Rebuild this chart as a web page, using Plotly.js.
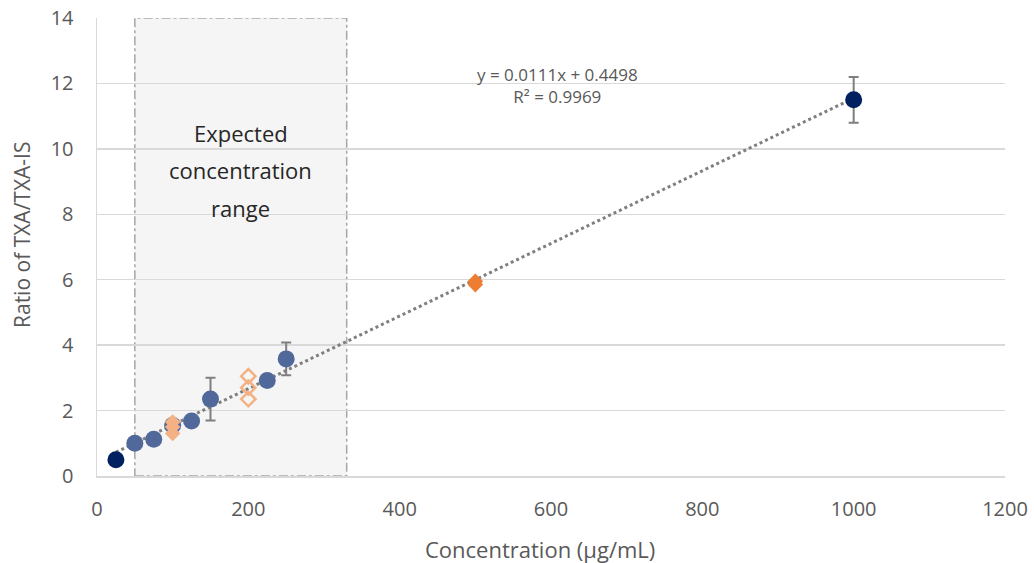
<!DOCTYPE html>
<html>
<head>
<meta charset="utf-8">
<script src="https://cdn.plot.ly/plotly-3.0.1.min.js"></script>
<style>html,body{margin:0;padding:0;background:#fff}#chart{width:1034px;height:563px}</style>
</head>
<body>
<div id="chart"></div>
<script>
// Calibration standards (dark navy)
const stdX = [25, 1000];
const stdY = [0.5, 11.5];
const stdErr = [0, 0.7];

// Intermediate standards (steel blue)
const midX = [50, 75, 100, 125, 150, 225, 250];
const midY = [1.0, 1.12, 1.55, 1.68, 2.35, 2.92, 3.58];
const midErr = [0, 0, 0, 0.15, 0.65, 0, 0.5];

// QC samples at 100 (filled light orange)
const qcLowX = [100, 100, 100];
const qcLowY = [1.3, 1.5, 1.65];

// QC samples at 200 (open light orange)
const qcMidX = [200, 200, 200];
const qcMidY = [2.35, 2.7, 3.05];

// QC samples at 500 (orange)
const qcHighX = [500, 500];
const qcHighY = [5.85, 5.95];

// Linear fit
const slope = 0.0111;
const intercept = 0.4498;
const r2 = 0.9969;
const fitX = [25, 1000];
const fitY = fitX.map(x => slope * x + intercept);

// Expected concentration range
const rangeX = [50, 330];
const rangeLabel = ['Expected', 'concentration', 'range'];

// Axis titles
const xTitle = 'Concentration (µg/mL)';
const yTitle = 'Ratio of TXA/TXA-IS';

const font = "Open Sans, Noto Sans, sans-serif";

const traces = [
  {x: fitX, y: fitY, mode: 'lines', line: {color: '#7f7f7f', width: 3, dash: 'dot'}, hoverinfo: 'skip'},
  {x: midX, y: midY, mode: 'markers', marker: {color: '#50699a', size: 17},
   error_y: {type: 'data', array: midErr, visible: true, color: '#7f7f7f', thickness: 2, width: 5}},
  {x: qcLowX, y: qcLowY, mode: 'markers', marker: {color: '#f4b183', size: 12, symbol: 'diamond'}},
  {x: qcMidX, y: qcMidY, mode: 'markers', marker: {color: '#f4b183', size: 11, symbol: 'diamond-open', line: {color: '#f4b183', width: 2.5}}},
  {x: qcHighX, y: qcHighY, mode: 'markers', marker: {color: '#ed7d31', size: 12, symbol: 'diamond'}},
  {x: stdX, y: stdY, mode: 'markers', marker: {color: '#002060', size: 17},
   error_y: {type: 'data', array: stdErr, visible: true, color: '#7f7f7f', thickness: 2, width: 5}}
];

const plotW = 908, plotH = 458, plotL = 97, plotT = 18;

const rangeAnnots = rangeLabel.map((t, i) => ({
  x: (rangeX[0] + rangeX[1]) / 2, y: 0, xref: 'x', yref: 'paper', yanchor: 'middle',
  showarrow: false, text: t, font: {size: 22, color: '#262626', family: font}
}));
// vertical placement (pixels from top of the plot area) for the three label lines
[115, 152, 190].forEach((py, i) => { rangeAnnots[i].y = 1 - py / plotH; });

const titleAnnots = [
  {text: xTitle, xref: 'paper', yref: 'paper', showarrow: false,
   x: (540 - plotL) / plotW, y: -(549 - 476) / plotH, xanchor: 'center', yanchor: 'middle',
   font: {size: 22, color: '#595959', family: font}},
  {text: yTitle, xref: 'paper', yref: 'paper', showarrow: false, textangle: -90,
   x: (22 - plotL) / plotW, y: (476 - 235) / plotH, xanchor: 'center', yanchor: 'middle',
   font: {size: 21, color: '#595959', family: font}}
];

const layout = {
  width: 1034, height: 563,
  margin: {l: plotL, r: 1034 - plotL - plotW, t: plotT, b: 563 - plotT - plotH},
  paper_bgcolor: '#ffffff', plot_bgcolor: '#ffffff',
  showlegend: false,
  font: {family: font, color: '#595959'},
  xaxis: {
    range: [0, 1200], dtick: 200, tick0: 0,
    showgrid: false, zeroline: false,
    showline: true, linecolor: '#d9d9d9', linewidth: 1.5,
    ticks: '', ticklabelstandoff: 14, tickfont: {size: 20, color: '#595959'}
  },
  yaxis: {
    range: [0, 14], dtick: 2, tick0: 0,
    showgrid: true, gridcolor: '#d9d9d9', gridwidth: 1.5,
    zeroline: false, showline: true, linecolor: '#d9d9d9', linewidth: 1.5,
    ticks: '', ticklabelstandoff: 18, tickfont: {size: 20, color: '#595959'}
  },
  shapes: [{
    type: 'rect', xref: 'x', yref: 'y', layer: 'below',
    x0: rangeX[0], x1: rangeX[1], y0: 0, y1: 14,
    fillcolor: '#f5f5f5', line: {color: '#a6a6a6', width: 1.5, dash: 'dashdot'}
  }],
  annotations: rangeAnnots.concat(titleAnnots, [
    {x: 608, y: 11.95, xref: 'x', yref: 'y', showarrow: false, xanchor: 'center',
     text: 'y = ' + slope + 'x + ' + intercept + '<br>R² = ' + r2,
     font: {size: 17, color: '#595959', family: font}}
  ])
};

Plotly.newPlot('chart', traces, layout, {displayModeBar: false, staticPlot: true});
</script>
</body>
</html>
